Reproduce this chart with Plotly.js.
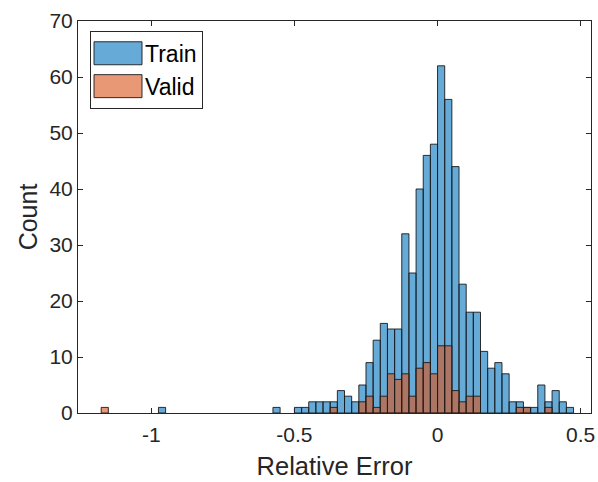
<!DOCTYPE html>
<html><head><meta charset="utf-8">
<script src="https://cdn.plot.ly/plotly-3.0.1.min.js"></script>
<style>html,body{margin:0;padding:0;background:#fff}</style>
</head><body><div id="chart" style="width:598px;height:482px"></div>
<script>
// Histogram bins: left edge of first bin and common bin width
const binStart = -1.175;
const binWidth = 0.025;
// Counts per bin (66 bins from -1.175 to 0.475)
const trainCounts = [
  0,0,0,0,0,0,0,0,1,0,
  0,0,0,0,0,0,0,0,0,0,
  0,0,0,0,1,0,0,1,1,2,
  2,2,2,4,3,2,5,9,13,16,
  15,15,32,25,40,46,48,62,56,44,
  23,18,18,11,8,9,7,2,2,1,
  1,5,2,4,2,1
];
const validCounts = [
  1,0,0,0,0,0,0,0,0,0,
  0,0,0,0,0,0,0,0,0,0,
  0,0,0,0,0,0,0,0,0,0,
  0,0,1,0,0,0,2,3,1,3,
  7,6,7,3,8,9,7,12,12,4,
  2,3,3,0,0,0,0,0,1,1,
  0,0,1,0,0,0
];
const seriesNames = ['Train', 'Valid'];
const xTicks = [-1, -0.5, 0, 0.5];
const xTickText = ['-1', '-0.5', '0', '0.5'];
const yTicks = [0, 10, 20, 30, 40, 50, 60, 70];

function centers(counts) {
  return counts.map((c, i) => binStart + binWidth * (i + 0.5));
}
function nz(counts) { return counts.map(c => c === 0 ? null : c); }

const font = 'Liberation Sans, Arial, Helvetica, sans-serif';
const axisColor = '#262626';

const data = [
  {
    type: 'bar', name: seriesNames[0],
    x: centers(trainCounts), y: nz(trainCounts), width: binWidth,
    marker: {color: 'rgba(0,114,189,0.6)', line: {color: '#1a1a1a', width: 0.9}}
  },
  {
    type: 'bar', name: seriesNames[1],
    x: centers(validCounts), y: nz(validCounts), width: binWidth,
    marker: {color: 'rgba(217,83,25,0.6)', line: {color: '#1a1a1a', width: 0.9}}
  }
];

const layout = {
  width: 598, height: 482,
  margin: {l: 78, r: 7, t: 21, b: 69},
  paper_bgcolor: '#fff', plot_bgcolor: '#fff',
  barmode: 'overlay', bargap: 0,
  font: {family: font, color: axisColor, size: 21},
  xaxis: {
    range: [-1.256, 0.536],
    tickvals: xTicks, ticktext: xTickText,
    ticks: 'inside', ticklen: 5, tickcolor: axisColor, tickwidth: 1,
    showline: true, linecolor: axisColor, linewidth: 1, mirror: 'ticks',
    showgrid: false, zeroline: false,
    tickfont: {size: 21, color: axisColor}, ticklabelstandoff: 3,
    title: {text: 'Relative Error', font: {size: 25.5, color: axisColor}, standoff: 11}
  },
  yaxis: {
    range: [0, 70],
    tickvals: yTicks,
    ticks: 'inside', ticklen: 5, tickcolor: axisColor, tickwidth: 1,
    showline: true, linecolor: axisColor, linewidth: 1, mirror: 'ticks',
    showgrid: false, zeroline: false,
    tickfont: {size: 21, color: axisColor},
    title: {text: 'Count', font: {size: 25, color: axisColor}, standoff: 4}
  },
  showlegend: true,
  legend: {
    x: 0.0234, y: 0.975, xanchor: 'left', yanchor: 'top',
    bgcolor: '#fff', bordercolor: axisColor, borderwidth: 1,
    font: {size: 23, color: '#000'},
    itemwidth: 44, tracegroupgap: 0
  }
};

Plotly.newPlot('chart', data, layout, {staticPlot: true, displayModeBar: false}).then(gd => {
  gd.querySelectorAll('.legend .legendpoints path').forEach(p => {
    p.setAttribute('d', 'M-24,11.5H24V-11.5H-24Z');
  });
});
</script>
</body></html>
